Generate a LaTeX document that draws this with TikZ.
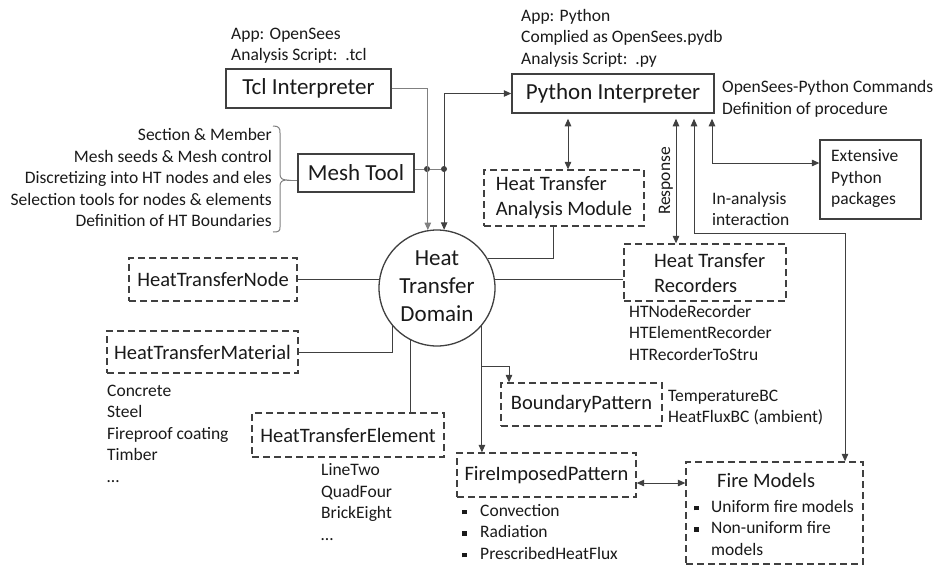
\documentclass[tikz,border=0pt]{standalone}
\usepackage{fontspec}
\setmainfont{Carlito}
\usetikzlibrary{arrows.meta,calc}
\definecolor{ln}{HTML}{404040}
\definecolor{lg}{HTML}{808080}
\definecolor{tx}{HTML}{1A1A1A}
\newcommand{\sqb}{\rule[2pt]{4.5pt}{4.5pt}}
\tikzset{
  bigf/.style={font=\fontsize{23}{28}\selectfont},
  medf/.style={font=\fontsize{20.5}{25}\selectfont},
  smlf/.style={font=\fontsize{17.5}{21.5}\selectfont},
  sbox/.style={draw=ln, line width=1.5pt, inner sep=0pt, bigf, text=tx},
  dbox/.style={draw=ln, line width=1.3pt, dash pattern=on 7pt off 4pt, inner sep=0pt, medf, text=tx},
  conn/.style={draw=ln, line width=1pt},
  gconn/.style={draw=lg, line width=1pt},
  txt/.style={inner sep=0pt, text=tx},
  jdot/.style={circle, fill=ln, inner sep=0pt, minimum size=6pt},
}
\begin{document}
\begin{tikzpicture}[x=1pt,y=-1pt,>={Triangle[length=7.5pt,width=6.5pt]}]
\fill[white] (0,0) rectangle (943,566);
\useasboundingbox (0,0) rectangle (943,566);

% solid boxes
\node[sbox, minimum width=165pt, minimum height=39pt] (tcl) at (308.5,88.5) {Tcl Interpreter};
\node[sbox, minimum width=116pt, minimum height=38pt] (mesh) at (356,173) {Mesh Tool};
\node[sbox, minimum width=202pt, minimum height=39pt] (pyth) at (613,93.5) {Python Interpreter};
\node[sbox, line width=1.3pt, minimum width=101pt, minimum height=79pt] (ext) at (870.5,179.5) {};
\node[txt, smlf, anchor=west] (extt) at (831,179) {\begin{tabular}{@{}l@{}}Extensive\\Python\\packages\end{tabular}};

% domain
\node[draw=ln, line width=1.3pt, circle, minimum size=116pt, inner sep=0pt, bigf, text=tx] (dom) at (437,288)
  {\begin{tabular}{@{}c@{}}Heat\\Transfer\\Domain\end{tabular}};

% dashed boxes
\node[dbox, minimum width=160pt, minimum height=56pt] (htam) at (564,198)
  {\begin{tabular}{@{}l@{}}Heat Transfer\\Analysis Module\end{tabular}};
\node[dbox, minimum width=162pt, minimum height=57pt] (htr) at (705,272.5) {};
\node[txt, medf, anchor=west] (htrt) at (654,274.5) {\begin{tabular}{@{}l@{}}Heat Transfer\\Recorders\end{tabular}};
\node[dbox, minimum width=168pt, minimum height=43pt] (htn) at (213,279.5) {HeatTransferNode};
\node[dbox, minimum width=191pt, minimum height=42pt] (htm) at (202.5,352) {HeatTransferMaterial};
\node[dbox, minimum width=192pt, minimum height=44pt] (hte) at (348,435) {HeatTransferElement};
\node[dbox, minimum width=161pt, minimum height=43pt] (bp) at (581.5,404.5) {BoundaryPattern};
\node[dbox, minimum width=179pt, minimum height=44pt] (fip) at (546.5,475) {FireImposedPattern};
\node[dbox, minimum width=177pt, minimum height=102pt] (fm) at (774.5,513) {};
\node[txt, medf, anchor=west] (fmt) at (717,480) {Fire Models};
\node[txt, smlf, anchor=west] (fml) at (694,529.5)
  {\begin{tabular}{@{}l@{\hspace{12.5pt}}l@{}}\sqb & Uniform fire models\\ \sqb & Non-uniform fire\\ & models\end{tabular}};

% text blocks
\node[txt, smlf, anchor=west] (tcll) at (231,45.5) {\begin{tabular}{@{}l@{}}App: OpenSees\\Analysis Script:\ \ .tcl\end{tabular}};
\node[txt, smlf, anchor=west] (pyl) at (521,38.5) {\begin{tabular}{@{}l@{}}App: Python\\Complied as OpenSees.pydb\\Analysis Script:\ \ .py\end{tabular}};
\node[txt, smlf, anchor=west] (cmd) at (722,99) {\begin{tabular}{@{}l@{}}OpenSees-Python Commands\\Definition of procedure\end{tabular}};
\node[txt, smlf, anchor=east] (meshl) at (272,179.5) {\begin{tabular}{@{}r@{}}Section \& Member\\Mesh seeds \& Mesh control\\Discretizing into HT nodes and eles\\Selection tools for nodes \& elements\\Definition of HT Boundaries\end{tabular}};
\node[txt, smlf, anchor=west] (inan) at (712,210.5) {\begin{tabular}{@{}l@{}}In-analysis\\interaction\end{tabular}};
\node[txt, smlf, rotate=90] (resp) at (666,181) {Response};
\node[txt, smlf, anchor=west] (recl) at (629,334.5) {\begin{tabular}{@{}l@{}}HTNodeRecorder\\HTElementRecorder\\HTRecorderToStru\end{tabular}};
\node[txt, smlf, anchor=west] (matl) at (107,435) {\begin{tabular}{@{}l@{}}Concrete\\Steel\\Fireproof coating\\Timber\\…\end{tabular}};
\node[txt, smlf, anchor=west] (elel) at (321,503.5) {\begin{tabular}{@{}l@{}}LineTwo\\QuadFour\\BrickEight\\…\end{tabular}};
\node[txt, smlf, anchor=west] (bpl) at (668,407.5) {\begin{tabular}{@{}l@{}}TemperatureBC\\HeatFluxBC (ambient)\end{tabular}};
\node[txt, smlf, anchor=west] (fipl) at (462,533.5)
  {\begin{tabular}{@{}l@{\hspace{13.5pt}}l@{}}\sqb & Convection\\ \sqb & Radiation\\ \sqb & PrescribedHeatFlux\end{tabular}};

% junction dots
\node[jdot] (j1) at (427,169) {};
\node[jdot] (j2) at (444,169) {};

% brace
\draw[gconn] (273,126) .. controls (279,126) and (280,128) .. (280,133) -- (280,174)
  .. controls (280,178) and (282,180) .. (287,180)
  .. controls (282,180) and (280,182) .. (280,186) -- (280,227)
  .. controls (280,231) and (279,232) .. (273,232);
\coordinate (btip) at (287,180);
\draw[gconn] (btip) -- (btip -| mesh.west);

% top connectors
\draw[gconn, ->] (tcl.east) -| (dom.99.9);
\draw[conn, <->] (pyth.west) -| (dom.83.1);
\draw[gconn] (mesh.east |- j1) -- (j1) -- (j2);

% python connectors
\draw[conn, <->, shorten <=5pt] ([xshift=-45pt]pyth.south) -- ([xshift=4pt]htam.north);
\draw[conn, <->, shorten <=5pt] ([xshift=63pt]pyth.south) -- ([xshift=63pt]pyth.south |- htr.north);
\coordinate (turn) at (694,233);
\draw[conn, <->, shorten <=5pt] ([xshift=81pt]pyth.south) -- (turn) -| ([xshift=70.5pt]fm.north);
\draw[conn, <->, shorten <=5pt] ([xshift=99pt]pyth.south) |- ([yshift=16.5pt]ext.west);

% domain connectors
\draw[conn] ([xshift=-11pt]htam.south) |- (dom.30.6);
\draw[conn] (htn.east) -- (htn.east -| dom.171.6);
\draw[conn] (dom.8.6) -- (dom.8.6 -| htr.west);
\draw[conn] (htm.east) -| (dom.220.7);
\draw[conn] (dom.243.3) -- (dom.243.3 |- hte.north);
\path (dom.320.9) coordinate (dbot);
\coordinate (br) at (0,366);
\draw[conn, ->] (dbot) -- (dbot |- fip.north);
\draw[conn, ->] (dbot |- br) -| ([xshift=-72.5pt]bp.north);
\draw[conn, <->] ([yshift=-8pt]fip.east) -- ([yshift=-8pt]fip.east -| fm.west);
\end{tikzpicture}
\end{document}
